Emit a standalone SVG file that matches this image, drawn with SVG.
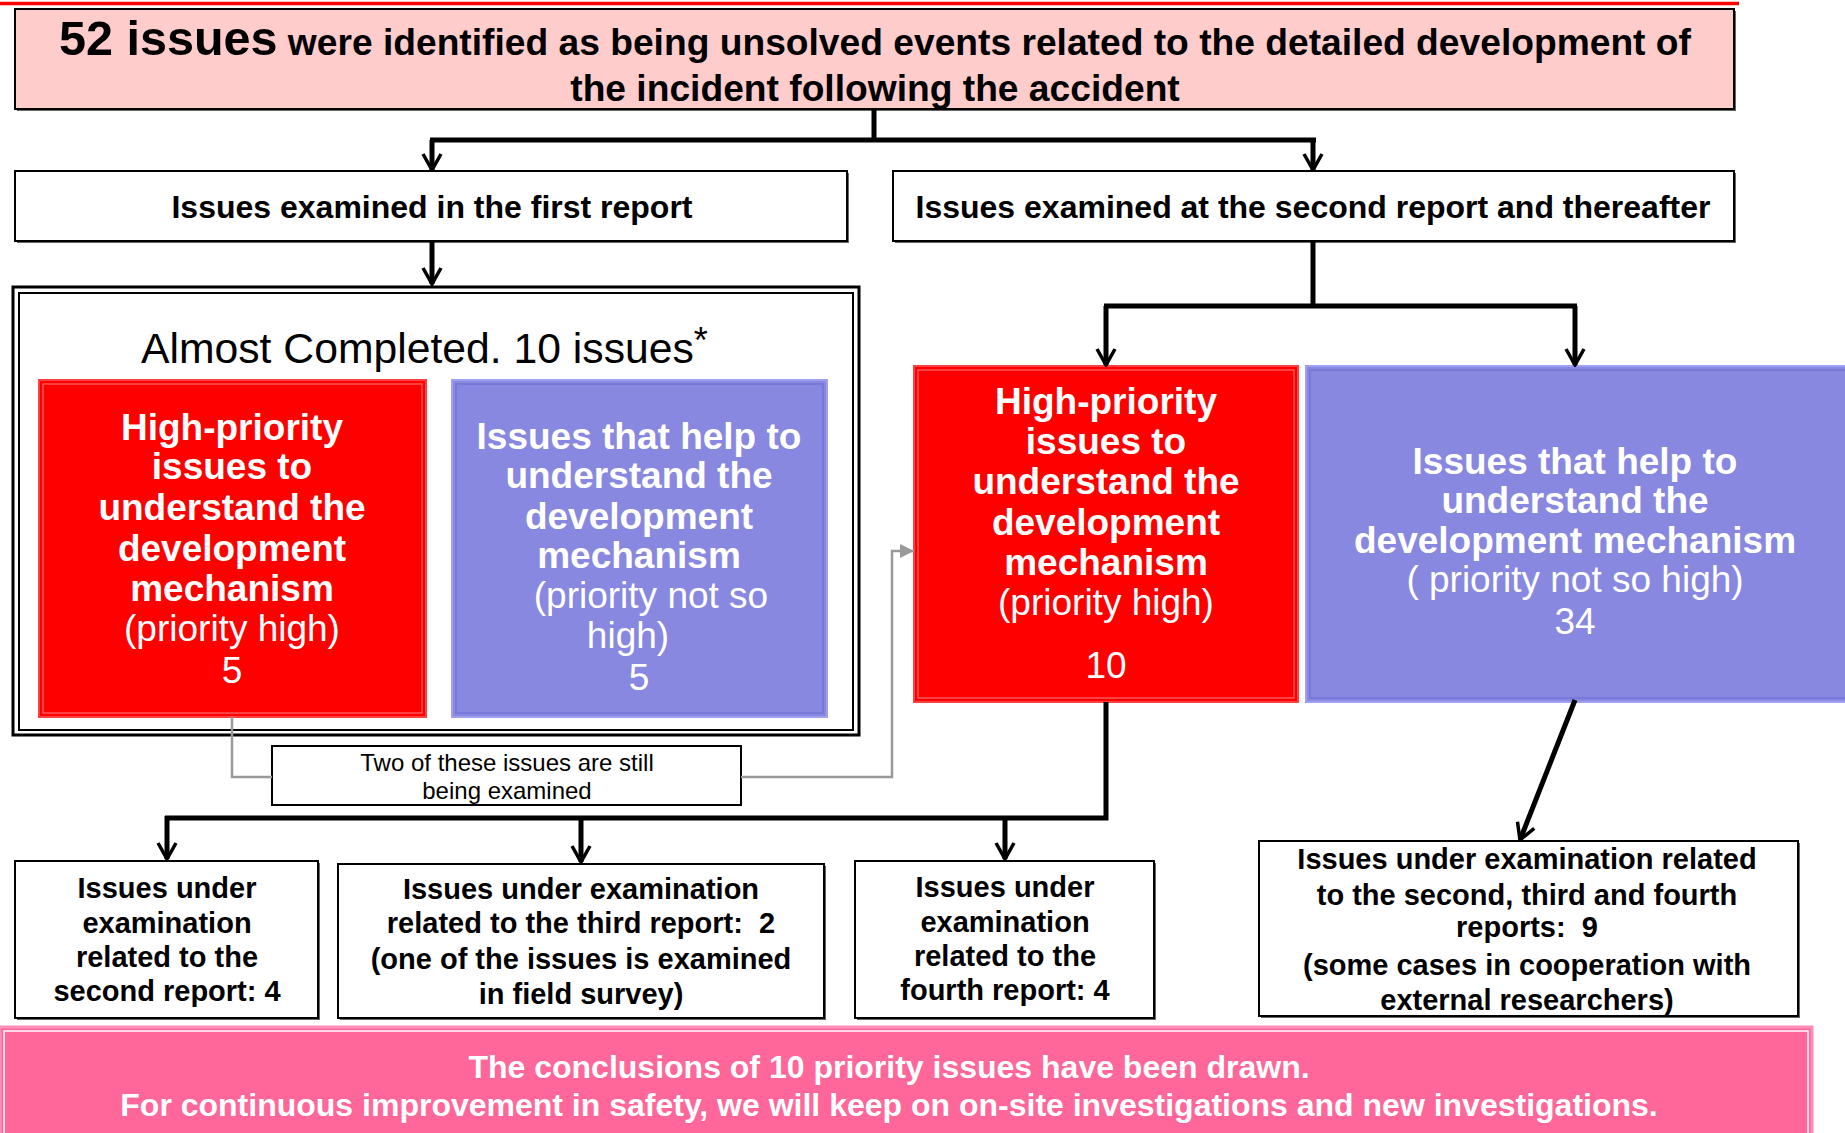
<svg xmlns="http://www.w3.org/2000/svg" width="1845" height="1133" viewBox="0 0 1845 1133">
<defs>
<style>
text{font-family:"Liberation Sans",Arial,sans-serif;text-anchor:middle}
.b{font-weight:bold}
.w{fill:#fff}
.box{fill:#fff;stroke:#000;stroke-width:2}
.sh{fill:#666}
.con{fill:none;stroke:#000;stroke-width:5}
.gray{fill:none;stroke:#999;stroke-width:2.5}
.t37{font-size:37px}
.t29{font-size:29px;font-weight:bold}
.t32{font-size:32px;font-weight:bold}
</style>
<marker id="arr" viewBox="0 0 20 22" refX="18" refY="11" markerWidth="20" markerHeight="22" markerUnits="userSpaceOnUse" orient="auto">
<path d="M2,2 L18,11 L2,20" fill="none" stroke="#000" stroke-width="3.5"/>
</marker>
<marker id="garr" viewBox="0 0 12 12" refX="12" refY="6" markerWidth="14" markerHeight="14" markerUnits="userSpaceOnUse" orient="auto">
<path d="M0,0 L12,6 L0,12 Z" fill="#999"/>
</marker>
</defs>
<line x1="0" y1="3.5" x2="1739" y2="3.5" stroke="#FF0000" stroke-width="3.5"/>

<g id="title">
<rect x="17" y="11" width="1719" height="100" class="sh"/>
<rect x="15" y="9" width="1719" height="100" fill="#FFCCCC" stroke="#000" stroke-width="2"/>
<text x="875" y="55" class="b" style="font-size:37.2px"><tspan style="font-size:48.5px">52 issues</tspan> were identified as being unsolved events related to the detailed development of</text>
<text x="875" y="101" class="b" style="font-size:37.2px">the incident following the accident</text>
</g>

<g id="first-report">
<rect x="17" y="173" width="832" height="70" class="sh"/>
<rect x="15" y="171" width="832" height="70" class="box"/>
<text x="432" y="218" class="t32">Issues examined in the first report</text>
</g>

<g id="second-report">
<rect x="895" y="173" width="841" height="70" class="sh"/>
<rect x="893" y="171" width="841" height="70" class="box"/>
<text x="1313" y="218" class="t32">Issues examined at the second report and thereafter</text>
</g>

<g id="almost-completed">
<rect x="13" y="287" width="846" height="448" fill="#fff" stroke="#000" stroke-width="3"/>
<rect x="19" y="293" width="834" height="437" fill="none" stroke="#000" stroke-width="2"/>
<text x="141" y="363" style="font-size:42.7px;text-anchor:start">Almost Completed. 10 issues<tspan style="font-size:36px" dy="-10">*</tspan></text>
</g>

<g id="red-left">
<rect x="39" y="380" width="387" height="337" fill="#FF0000" stroke="#FF4040" stroke-width="2"/>
<rect x="43" y="384" width="379" height="329" fill="none" stroke="#FF8080" stroke-width="1"/>
<text class="b w t37" x="232" y="440">High-priority</text>
<text class="b w t37" x="232" y="479">issues to</text>
<text class="b w t37" x="232" y="520">understand the</text>
<text class="b w t37" x="232" y="561">development</text>
<text class="b w t37" x="232" y="601">mechanism</text>
<text class="w t37" x="232" y="641">(priority high)</text>
<text class="w t37" x="232" y="683">5</text>
</g>

<g id="blue-left">
<rect x="452" y="380" width="375" height="337" fill="#8888E0" stroke="#A0A0F0" stroke-width="2"/>
<rect x="456" y="384" width="367" height="329" fill="none" stroke="#7878D8" stroke-width="2"/>
<text class="b w t37" x="639" y="449">Issues that help to</text>
<text class="b w t37" x="639" y="488">understand the</text>
<text class="b w t37" x="639" y="529">development</text>
<text class="b w t37" x="639" y="568">mechanism</text>
<text class="w t37" x="651" y="608">(priority not so</text>
<text class="w t37" x="628" y="648">high)</text>
<text class="w t37" x="639" y="690">5</text>
</g>

<g id="still-examined">
<rect x="272" y="746" width="469" height="59" class="box"/>
<text x="507" y="771" style="font-size:24px">Two of these issues are still</text>
<text x="507" y="799" style="font-size:24px">being examined</text>
</g>

<g id="red-right">
<rect x="914" y="366" width="384" height="336" fill="#FF0000" stroke="#FF4040" stroke-width="2"/>
<rect x="918" y="370" width="376" height="328" fill="none" stroke="#FF8080" stroke-width="1"/>
<text class="b w t37" x="1106" y="414">High-priority</text>
<text class="b w t37" x="1106" y="454">issues to</text>
<text class="b w t37" x="1106" y="494">understand the</text>
<text class="b w t37" x="1106" y="535">development</text>
<text class="b w t37" x="1106" y="575">mechanism</text>
<text class="w t37" x="1106" y="615">(priority high)</text>
<text class="w t37" x="1106" y="678">10</text>
</g>

<g id="blue-right">
<rect x="1306" y="366" width="540" height="336" fill="#8888E0" stroke="#A0A0F0" stroke-width="2"/>
<rect x="1310" y="370" width="540" height="328" fill="none" stroke="#7878D8" stroke-width="2"/>
<text class="b w t37" x="1575" y="474">Issues that help to</text>
<text class="b w t37" x="1575" y="513">understand the</text>
<text class="b w t37" x="1575" y="553">development mechanism</text>
<text class="w t37" x="1575" y="592">( priority not so high)</text>
<text class="w t37" x="1575" y="634">34</text>
</g>

<g id="second-report-4">
<rect x="17" y="863" width="303" height="157" class="sh"/>
<rect x="15" y="861" width="303" height="157" class="box"/>
<text class="t29" x="167" y="898">Issues under</text>
<text class="t29" x="167" y="933">examination</text>
<text class="t29" x="167" y="967">related to the</text>
<text class="t29" x="167" y="1001">second report: 4</text>
</g>

<g id="third-report-2">
<rect x="340" y="866" width="486" height="154" class="sh"/>
<rect x="338" y="864" width="486" height="154" class="box"/>
<text class="t29" x="581" y="899">Issues under examination</text>
<text class="t29" x="581" y="933" xml:space="preserve">related to the third report:  2</text>
<text class="t29" x="581" y="969">(one of the issues is examined</text>
<text class="t29" x="581" y="1004">in field survey)</text>
</g>

<g id="fourth-report-4">
<rect x="857" y="863" width="299" height="157" class="sh"/>
<rect x="855" y="861" width="299" height="157" class="box"/>
<text class="t29" x="1005" y="897">Issues under</text>
<text class="t29" x="1005" y="932">examination</text>
<text class="t29" x="1005" y="966">related to the</text>
<text class="t29" x="1005" y="1000">fourth report: 4</text>
</g>

<g id="reports-9">
<rect x="1261" y="843" width="539" height="175" class="sh"/>
<rect x="1259" y="841" width="539" height="175" class="box"/>
<text class="t29" x="1527" y="869">Issues under examination related</text>
<text class="t29" x="1527" y="905">to the second, third and fourth</text>
<text class="t29" x="1527" y="937" xml:space="preserve">reports:  9</text>
<text class="t29" x="1527" y="975">(some cases in cooperation with</text>
<text class="t29" x="1527" y="1010">external researchers)</text>
</g>

<g id="conclusion">
<rect x="0" y="1027" width="1812" height="108" fill="#FF6699" stroke="#FF8FB5" stroke-width="3"/>
<rect x="4" y="1031" width="1804" height="104" fill="none" stroke="#FFFFFF" stroke-width="1.5"/>
<text class="t32 w" x="889" y="1078">The conclusions of 10 priority issues have been drawn.</text>
<text class="t32 w" x="889" y="1116">For continuous improvement in safety, we will keep on on-site investigations and new investigations.</text>
</g>

<g id="connectors">
<path class="con" d="M874,109 V140" stroke-width="4"/>
<path class="con" d="M430,140 H1316" stroke-width="6"/>
<path class="con" d="M432,140 V170" stroke-width="4" marker-end="url(#arr)"/>
<path class="con" d="M1313,140 V170" stroke-width="4" marker-end="url(#arr)"/>
<path class="con" d="M432,241 V284" stroke-width="4" marker-end="url(#arr)"/>
<path class="con" d="M1313,241 V306"/>
<path class="con" d="M1104,306 H1577"/>
<path class="con" d="M1106,306 V365" stroke-width="4" marker-end="url(#arr)"/>
<path class="con" d="M1575,306 V365" stroke-width="4" marker-end="url(#arr)"/>
<path class="con" d="M1106,702 V818 H165"/>
<path class="con" d="M167,816 V859" stroke-width="4" marker-end="url(#arr)"/>
<path class="con" d="M581,818 V862" stroke-width="4" marker-end="url(#arr)"/>
<path class="con" d="M1005,818 V859" stroke-width="4" marker-end="url(#arr)"/>
<path class="con" d="M1575,700 L1520,840" stroke-width="4" marker-end="url(#arr)"/>
<path class="gray" d="M232,717 V777 H272"/>
<path class="gray" d="M741,777 H892 V551 H914" marker-end="url(#garr)"/>
</g>
</svg>
